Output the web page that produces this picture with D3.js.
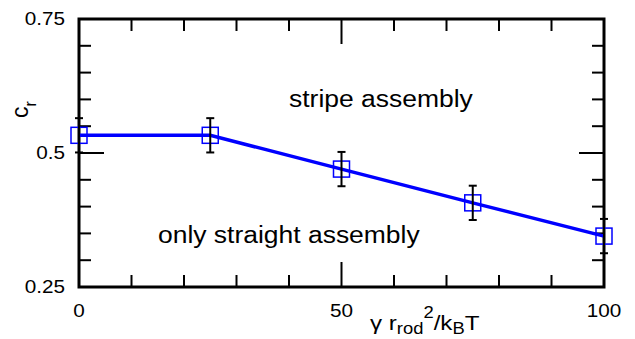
<!DOCTYPE html>
<html>
<head>
<meta charset="utf-8">
<script src="https://cdn.jsdelivr.net/npm/d3@7"></script>
<style>
  html, body { margin: 0; padding: 0; background: #fff; }
  svg { display: block; font-family: "Liberation Sans", Arial, sans-serif; }
</style>
</head>
<body>
<div id="chart"></div>
<script>
// data
const xValues = [0, 25, 50, 75, 100];
const crValues = [0.533, 0.533, 0.470, 0.407, 0.345];
const crErrors = [0.032, 0.032, 0.032, 0.032, 0.032];

const xMajorTicks = [0, 50, 100];
const xMinorTicks = [10, 20, 30, 40, 60, 70, 80, 90];
const yMajorTicks = [0.25, 0.5, 0.75];
const yMinorTicks = [0.3, 0.35, 0.4, 0.45, 0.55, 0.6, 0.65, 0.7];

const width = 635, height = 339;
const margin = { top: 19, right: 31, bottom: 52, left: 79 };

const svg = d3.select("#chart").append("svg")
    .attr("width", width)
    .attr("height", height);

// the original text is a bit wider than Arial, stretch glyphs horizontally
function stretch(sel, k) {
    sel.each(function () {
        const len = this.getComputedTextLength();
        d3.select(this).attr("textLength", len * k).attr("lengthAdjust", "spacingAndGlyphs");
    });
}

const x = d3.scaleLinear().domain([0, 100]).range([margin.left, width - margin.right]);
const y = d3.scaleLinear().domain([0.25, 0.75]).range([height - margin.bottom, margin.top]);

const x0 = x.range()[0], x1 = x.range()[1];
const y0 = y.range()[0], y1 = y.range()[1];

// ticks on all four sides, pointing inward
const ticks = svg.append("g").attr("stroke", "#000").attr("stroke-width", 2);
function tickLines(values, len, scale, horizontal) {
    values.forEach(v => {
        if (horizontal) {
            const px = scale(v);
            ticks.append("line").attr("x1", px).attr("x2", px).attr("y1", y0).attr("y2", y0 - len);
            ticks.append("line").attr("x1", px).attr("x2", px).attr("y1", y1).attr("y2", y1 + len);
        } else {
            const py = scale(v);
            ticks.append("line").attr("x1", x0).attr("x2", x0 + len).attr("y1", py).attr("y2", py);
            ticks.append("line").attr("x1", x1).attr("x2", x1 - len).attr("y1", py).attr("y2", py);
        }
    });
}
tickLines(xMinorTicks, 12, x, true);
tickLines(xMajorTicks, 25, x, true);
tickLines(yMinorTicks, 12, y, false);
tickLines(yMajorTicks, 25, y, false);

// frame
svg.append("rect")
    .attr("x", x0).attr("y", y1)
    .attr("width", x1 - x0).attr("height", y0 - y1)
    .attr("fill", "none").attr("stroke", "#000").attr("stroke-width", 3);

// tick labels
const fmtY = d => d === 0.5 ? "0.5" : d3.format(".2f")(d);
svg.append("g").selectAll("text").data(yMajorTicks).enter().append("text")
    .attr("x", x0 - 14)
    .attr("y", d => y(d) + 6)
    .attr("text-anchor", "end")
    .attr("font-size", 18)
    .text(fmtY)
    .call(stretch, 1.15);

svg.append("g").selectAll("text").data(xMajorTicks).enter().append("text")
    .attr("x", d => x(d))
    .attr("y", y0 + 30)
    .attr("text-anchor", "middle")
    .attr("font-size", 18)
    .text(d => d)
    .call(stretch, 1.15);

// axis titles
const xt = svg.append("text")
    .attr("transform", "translate(370,330) scale(1.15,1)")
    .attr("font-size", 21);
xt.append("tspan").text("\u03b3 r");
xt.append("tspan").attr("font-size", 16).attr("dy", 4).text("rod");
xt.append("tspan").attr("font-size", 16).attr("dy", -16).text("2");
xt.append("tspan").attr("dy", 12).text("/k");
xt.append("tspan").attr("font-size", 16).attr("dy", 4).text("B");
xt.append("tspan").attr("dy", -4).text("T");

const yt = svg.append("text")
    .attr("transform", "translate(28,118) rotate(-90)")
    .attr("font-size", 23);
yt.append("tspan").text("c");
yt.append("tspan").attr("font-size", 16).attr("dy", 8).text("r");

// region annotations
svg.append("text").attr("x", 289).attr("y", 107).attr("font-size", 23)
    .text("stripe assembly").call(stretch, 1.15);
svg.append("text").attr("x", 158).attr("y", 243).attr("font-size", 23)
    .text("only straight assembly").call(stretch, 1.15);

const pts = xValues.map((v, i) => ({ x: v, y: crValues[i], e: crErrors[i] }));

// line
svg.append("path")
    .datum(pts)
    .attr("fill", "none")
    .attr("stroke", "#0000ff")
    .attr("stroke-width", 3.5)
    .attr("d", d3.line().x(d => x(d.x)).y(d => y(d.y)));

// markers
svg.append("g").selectAll("rect").data(pts).enter().append("rect")
    .attr("x", d => x(d.x) - 8)
    .attr("y", d => y(d.y) - 8)
    .attr("width", 16).attr("height", 16)
    .attr("fill", "none")
    .attr("stroke", "#0000ff")
    .attr("stroke-width", 1.5);

// error bars
const eb = svg.append("g").attr("stroke", "#000").attr("stroke-width", 2);
pts.forEach(d => {
    const px = x(d.x), top = y(d.y + d.e), bot = y(d.y - d.e);
    eb.append("line").attr("x1", px).attr("x2", px).attr("y1", top).attr("y2", bot);
    eb.append("line").attr("x1", px - 4).attr("x2", px + 4).attr("y1", top).attr("y2", top);
    eb.append("line").attr("x1", px - 4).attr("x2", px + 4).attr("y1", bot).attr("y2", bot);
});
</script>
</body>
</html>
